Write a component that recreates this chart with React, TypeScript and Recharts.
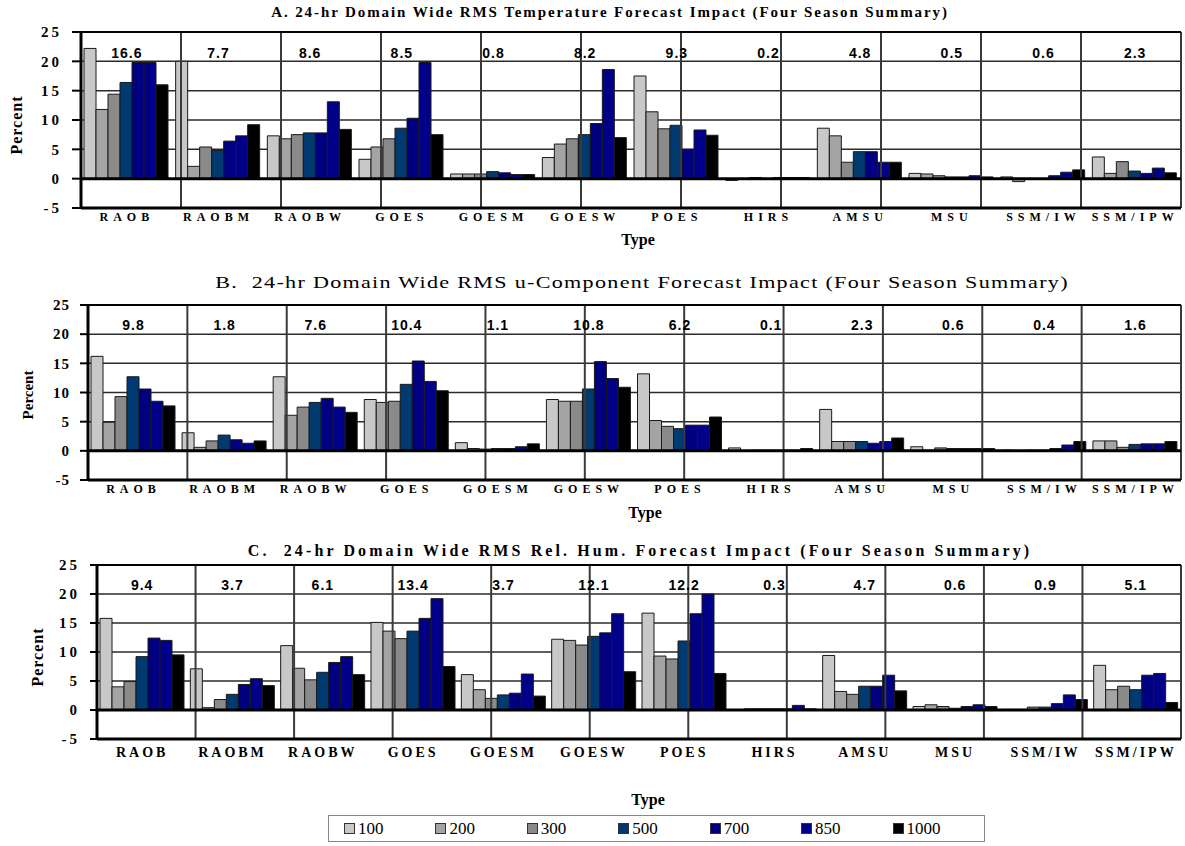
import React from "react";
import {
  BarChart,
  Bar,
  XAxis,
  YAxis,
  CartesianGrid,
  ReferenceLine,
  ReferenceDot,
} from "recharts";

const types = [
  "RAOB", "RAOBM", "RAOBW", "GOES", "GOESM", "GOESW",
  "POES", "HIRS", "AMSU", "MSU", "SSM/IW", "SSM/IPW",
];
const levels = ["100", "200", "300", "500", "700", "850", "1000"];
const levelColors = ["#c8c8c8", "#a4a4a4", "#8a8a8a", "#003a70", "#000080", "#000088", "#000000"];
const yTicks = [-5, 0, 5, 10, 15, 20, 25];

// rows follow types, columns follow levels
const tempImpact = [
  [22.2, 11.8, 14.4, 16.4, 19.8, 19.8, 16.0],
  [20.0, 2.1, 5.4, 4.8, 6.4, 7.3, 9.2],
  [7.3, 6.8, 7.5, 7.8, 7.8, 13.1, 8.4],
  [3.3, 5.4, 6.8, 8.6, 10.3, 19.8, 7.5],
  [0.8, 0.8, 0.8, 1.2, 1.0, 0.7, 0.7],
  [3.6, 5.9, 6.8, 7.5, 9.4, 18.6, 7.0],
  [17.5, 11.4, 8.5, 9.1, 5.0, 8.3, 7.4],
  [-0.3, 0.0, 0.2, 0.0, 0.2, 0.2, 0.2],
  [8.6, 7.3, 2.8, 4.6, 4.6, 2.8, 2.8],
  [0.9, 0.8, 0.5, 0.3, 0.3, 0.5, 0.3],
  [0.3, -0.5, 0.0, 0.0, 0.5, 1.1, 1.5],
  [3.7, 0.9, 2.9, 1.3, 0.9, 1.8, 1.0],
];
const tempSummary = ["16.6", "7.7", "8.6", "8.5", "0.8", "8.2", "9.3", "0.2", "4.8", "0.5", "0.6", "2.3"];

const windImpact = [
  [16.2, 4.9, 9.3, 12.7, 10.6, 8.5, 7.7],
  [3.1, 0.6, 1.7, 2.7, 1.9, 1.3, 1.7],
  [12.7, 6.1, 7.5, 8.3, 9.0, 7.5, 6.6],
  [8.8, 8.3, 8.5, 11.4, 15.4, 11.9, 10.3],
  [1.4, 0.4, 0.3, 0.4, 0.4, 0.7, 1.2],
  [8.8, 8.5, 8.5, 10.6, 15.3, 12.4, 10.9],
  [13.2, 5.2, 4.2, 3.8, 4.4, 4.4, 5.8],
  [0.5, 0.0, 0.1, 0.1, 0.1, 0.1, 0.4],
  [7.1, 1.6, 1.6, 1.6, 1.3, 1.6, 2.2],
  [0.7, 0.1, 0.5, 0.4, 0.4, 0.4, 0.4],
  [0.1, 0.0, 0.1, 0.1, 0.4, 1.0, 1.6],
  [1.7, 1.7, 0.6, 1.1, 1.2, 1.2, 1.6],
];
const windSummary = ["9.8", "1.8", "7.6", "10.4", "1.1", "10.8", "6.2", "0.1", "2.3", "0.6", "0.4", "1.6"];

const rhImpact = [
  [15.8, 4.0, 4.9, 9.2, 12.4, 12.0, 9.5],
  [7.1, 0.4, 1.8, 2.7, 4.4, 5.4, 4.2],
  [11.1, 7.2, 5.2, 6.5, 8.2, 9.2, 6.1],
  [15.1, 13.6, 12.3, 13.6, 15.8, 19.2, 7.5],
  [6.1, 3.5, 2.0, 2.6, 2.9, 6.2, 2.4],
  [12.2, 12.0, 11.2, 12.7, 13.3, 16.6, 6.6],
  [16.7, 9.3, 8.8, 11.9, 16.6, 20.0, 6.3],
  [0.0, 0.2, 0.2, 0.2, 0.2, 0.8, 0.2],
  [9.4, 3.2, 2.7, 4.1, 4.1, 6.0, 3.3],
  [0.6, 0.9, 0.6, 0.3, 0.6, 0.9, 0.6],
  [0.1, 0.1, 0.5, 0.5, 1.1, 2.6, 1.8],
  [7.7, 3.5, 4.1, 3.5, 6.0, 6.3, 1.3],
];
const rhSummary = ["9.4", "3.7", "6.1", "13.4", "3.7", "12.1", "12.2", "0.3", "4.7", "0.6", "0.9", "5.1"];

const SUMMARY_Y = 21.5;
const serif = "'Liberation Serif', 'Times New Roman', serif";
const sans = "'Liberation Sans', Arial, sans-serif";

function buildRows(values: number[][]) {
  return types.map((t, i) => {
    const row: Record<string, any> = { type: t };
    levels.forEach((l, j) => {
      row["p" + l] = values[i][j];
    });
    return row;
  });
}

function Txt({ x, y, rotate, stretch, style, children }: any) {
  let tf = "translate(-50%, -50%)";
  if (rotate) tf += ` rotate(${rotate}deg)`;
  if (stretch) tf += ` scaleX(${stretch})`;
  return (
    <div
      style={{
        position: "absolute",
        left: x,
        top: y,
        transform: tf,
        whiteSpace: "nowrap",
        fontFamily: serif,
        color: "#000",
        lineHeight: 1,
        ...style,
      }}
    >
      {children}
    </div>
  );
}

function Panel({ values, summary, top, height, marginTop, marginBottom, axisWidth, xAxisHeight, catTick, catSize, yTick, yTickSize }: any) {
  const data = buildRows(values);
  const edges = types.map((_, i) => i + 1);
  return (
    <div style={{ position: "absolute", left: 0, top }}>
      <BarChart
        width={1185}
        height={height}
        data={data}
        margin={{ top: marginTop, right: 4, left: 0, bottom: marginBottom }}
        barGap={0}
        barCategoryGap={3}
      >
        <CartesianGrid vertical={false} stroke="#2a2a2a" strokeWidth={1.5} />
        <XAxis
          dataKey="type"
          interval={0}
          tickLine={false}
          tickSize={catSize}
          tickMargin={0}
          height={xAxisHeight}
          axisLine={{ stroke: "#000", strokeWidth: 3 }}
          tick={catTick}
        />
        <XAxis xAxisId="edges" type="number" domain={[0, 12]} hide />
        <YAxis
          domain={[-5, 25]}
          ticks={yTicks}
          interval={0}
          width={axisWidth}
          tickSize={yTickSize}
          tickMargin={10}
          tickLine={{ stroke: "#000", strokeWidth: 2 }}
          axisLine={{ stroke: "#000", strokeWidth: 3 }}
          tick={yTick}
        />
        {edges.map((e) => (
          <ReferenceLine
            key={e}
            xAxisId="edges"
            x={e}
            stroke={e === 12 ? "#000" : "#3a3a3a"}
            strokeWidth={2}
          />
        ))}
        <ReferenceLine y={25} stroke="#000" strokeWidth={2} />
        {levels.map((l, j) => (
          <Bar
            key={l}
            dataKey={"p" + l}
            name={l}
            fill={levelColors[j]}
            stroke="#1a1a1a"
            strokeWidth={1}
            isAnimationActive={false}
          />
        ))}
        <ReferenceLine y={0} stroke="#000" strokeWidth={3} />
        {types.map((t, i) => (
          <ReferenceDot
            key={t}
            x={t}
            y={SUMMARY_Y}
            r={0}
            fill="none"
            stroke="none"
            label={{
              value: summary[i],
              position: "center",
              fill: "#000",
              fontFamily: sans,
              fontWeight: "bold",
              fontSize: 14,
              letterSpacing: 1,
            }}
          />
        ))}
      </BarChart>
    </div>
  );
}

export default function App() {
  const catA = { fontFamily: serif, fontWeight: "bold", fontSize: 12, fill: "#000", letterSpacing: 5 };
  const catC = { fontFamily: serif, fontWeight: "bold", fontSize: 14, fill: "#000", letterSpacing: 3 };
  const yA = { fontFamily: serif, fontWeight: "bold", fontSize: 15, fill: "#000", letterSpacing: 3 };
  const yB = { fontFamily: serif, fontWeight: "bold", fontSize: 15, fill: "#000", letterSpacing: 1 };
  return (
    <div style={{ position: "absolute", left: 0, top: 0, width: 1185, height: 846, background: "#fff" }}>
      <Txt x={610} y={12} style={{ fontWeight: "bold", fontSize: 15, letterSpacing: 1.9 }}>
        A. 24-hr Domain Wide RMS Temperature Forecast Impact (Four Season Summary)
      </Txt>
      <Panel
        values={tempImpact}
        summary={tempSummary}
        top={0}
        height={250}
        marginTop={32}
        marginBottom={12}
        axisWidth={81}
        xAxisHeight={30}
        catSize={4}
        catTick={catA}
        yTick={yA}
        yTickSize={9}
      />
      <Txt x={17} y={125} rotate={-90} style={{ fontWeight: "bold", fontSize: 16, letterSpacing: 1 }}>
        Percent
      </Txt>
      <Txt x={638} y={240} style={{ fontWeight: "bold", fontSize: 16 }}>
        Type
      </Txt>

      <Txt x={642} y={282} stretch={1.3} style={{ fontSize: 17, letterSpacing: 1 }}>
        B.&nbsp; 24-hr Domain Wide RMS u-Component Forecast Impact (Four Season Summary)
      </Txt>
      <Panel
        values={windImpact}
        summary={windSummary}
        top={270}
        height={250}
        marginTop={35}
        marginBottom={10}
        axisWidth={88}
        xAxisHeight={30}
        catSize={4}
        catTick={catA}
        yTick={yB}
        yTickSize={8}
      />
      <Txt x={28} y={395} rotate={-90} style={{ fontWeight: "bold", fontSize: 15 }}>
        Percent
      </Txt>
      <Txt x={645} y={513} style={{ fontWeight: "bold", fontSize: 16 }}>
        Type
      </Txt>

      <Txt x={640} y={551} style={{ fontWeight: "bold", fontSize: 16, letterSpacing: 3.1 }}>
        C.&nbsp; 24-hr Domain Wide RMS Rel. Hum. Forecast Impact (Four Season Summary)
      </Txt>
      <Panel
        values={rhImpact}
        summary={rhSummary}
        top={540}
        height={306}
        marginTop={25}
        marginBottom={77}
        axisWidth={97}
        xAxisHeight={30}
        catSize={8}
        catTick={catC}
        yTick={yA}
        yTickSize={7}
      />
      <Txt x={38} y={657} rotate={-90} style={{ fontWeight: "bold", fontSize: 16, letterSpacing: 1 }}>
        Percent
      </Txt>
      <Txt x={648} y={800} style={{ fontWeight: "bold", fontSize: 16 }}>
        Type
      </Txt>

      <div
        style={{
          position: "absolute",
          left: 328,
          top: 815,
          width: 657,
          height: 27,
          border: "1px solid #888",
          boxSizing: "border-box",
          display: "flex",
          alignItems: "center",
          paddingLeft: 15,
          fontFamily: serif,
          fontSize: 17,
        }}
      >
        {levels.map((l, j) => (
          <div key={l} style={{ width: 93, display: "flex", alignItems: "center" }}>
            <span
              style={{
                display: "inline-block",
                width: 9,
                height: 9,
                background: levelColors[j],
                border: "1px solid #333",
                marginRight: 3,
              }}
            />
            <span>{l}</span>
          </div>
        ))}
      </div>
    </div>
  );
}
